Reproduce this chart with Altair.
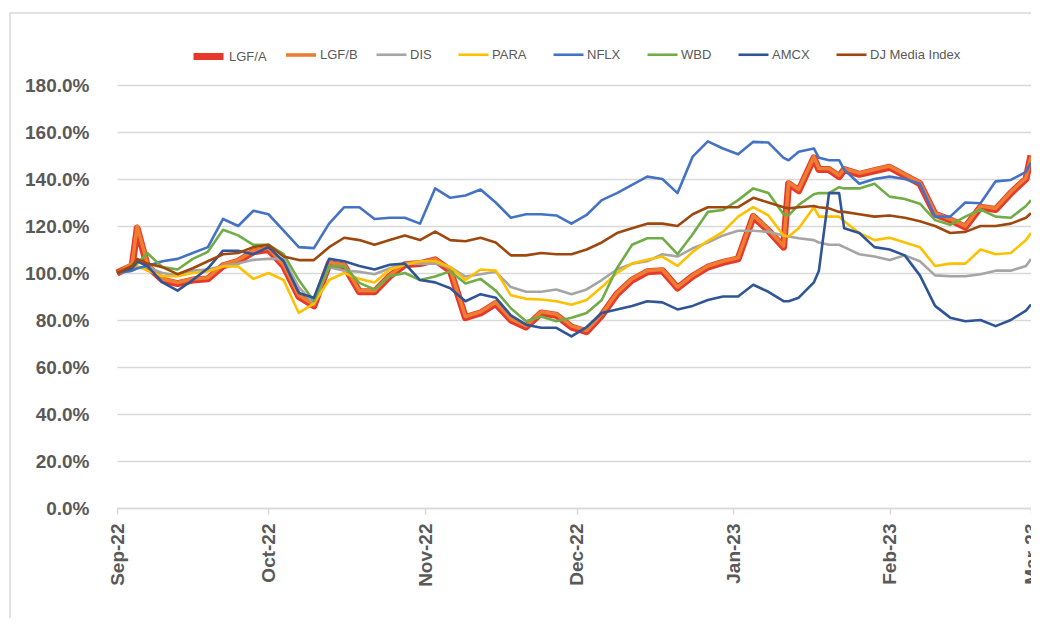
import altair as alt
import pandas as pd

DATES = [
    "2022-09-01", "2022-09-04", "2022-09-05", "2022-09-07", "2022-09-10", "2022-09-13", "2022-09-16", "2022-09-19", "2022-09-22", "2022-09-25",
    "2022-09-28", "2022-10-01", "2022-10-04", "2022-10-07", "2022-10-10", "2022-10-13", "2022-10-16", "2022-10-19", "2022-10-22", "2022-10-25",
    "2022-10-28", "2022-10-31", "2022-11-03", "2022-11-06", "2022-11-09", "2022-11-12", "2022-11-15", "2022-11-18", "2022-11-21", "2022-11-24",
    "2022-11-27", "2022-11-30", "2022-12-03", "2022-12-06", "2022-12-09", "2022-12-12", "2022-12-15", "2022-12-18", "2022-12-21", "2022-12-24",
    "2022-12-27", "2022-12-30", "2023-01-02", "2023-01-05", "2023-01-08", "2023-01-11", "2023-01-12", "2023-01-14", "2023-01-17", "2023-01-18",
    "2023-01-20", "2023-01-22", "2023-01-23", "2023-01-26", "2023-01-29", "2023-02-01", "2023-02-04", "2023-02-07", "2023-02-10", "2023-02-13",
    "2023-02-16", "2023-02-19", "2023-02-22", "2023-02-25", "2023-02-28", "2023-03-01",
]

LGF_A = [100, 103, 119, 103, 97, 95.5, 97, 97.5, 103, 105,
         109, 110, 103, 90, 86, 104, 103, 92, 92, 98.6,
         103.5, 104, 105.6, 101, 81, 83, 87, 80, 77, 83,
         82, 77, 75, 82, 91, 97, 100.5, 101, 93.6, 98.6,
         102.5, 104.5, 106, 124, 118, 111, 138, 135, 149, 144,
         144, 141, 144, 142, 143.5, 145, 141.5, 138, 125, 122.6,
         119.5, 128, 127, 134, 140, 150]

LGF_B = [100, 104, 120, 104, 97.5, 96, 97.5, 98, 103.5, 105.5,
         109.5, 110.5, 103.5, 90.5, 86.5, 104.5, 103.5, 92.5, 92.5, 99,
         104, 104.5, 106, 101.5, 81.5, 83.5, 87.5, 80.5, 77.5, 83.5,
         82.5, 77.5, 75.5, 82.5, 91.5, 97.5, 101, 101.5, 94, 99,
         103, 105, 106.5, 124.5, 118.5, 111.5, 138.5, 135.5, 149.5, 144.5,
         144.5, 141.5, 144.5, 142.5, 144, 145.5, 142, 138.5, 125.5, 123,
         120, 128.5, 127.5, 134.5, 140.5, 149.5]

DIS = [100, 101, 102, 102.5, 100, 99, 101, 101.5, 103, 104,
       105.6, 106, 106, 94, 87, 102.5, 101, 100.5, 99.5, 102,
       104, 104, 104, 102.5, 98.5, 99.5, 100.5, 94, 92, 92,
       93, 91, 93, 97, 101.5, 104, 105, 108, 107, 110.5,
       113, 116, 118, 118, 117.5, 116, 115.5, 114.8, 114, 113,
       112, 112, 111, 108, 107, 105.5, 107.5, 105, 99, 98.6,
       98.6, 99.5, 101, 101, 103, 106]

PARA = [100, 101.5, 103, 101, 98.6, 98.6, 100, 100.7, 102.8, 102.8,
        97.5, 100, 97, 83, 87, 97, 100, 97.5, 96, 101.5,
        103.5, 105, 105, 102.5, 97, 101.5, 101, 90.5, 89, 88.7,
        88, 86.5, 88.5, 94, 100, 104, 105.6, 107, 103, 109,
        113.7, 117.5, 124, 128, 124.5, 116, 115.5, 119, 128, 124,
        124, 124, 122, 117, 114, 115, 113, 111, 103, 104,
        104, 110, 108, 108.5, 114, 117]

NFLX = [100, 101, 102, 103, 105, 106, 108.5, 111, 123, 120,
        126.5, 125, 118, 111, 110.6, 121, 128, 128, 123, 123.5,
        123.5, 121, 136, 132, 133, 135.5, 130, 123.5, 125, 125,
        124.5, 121, 124.7, 131, 134, 137.5, 141, 140, 134, 149.5,
        156, 153, 150.5, 155.8, 155.5, 149, 148, 151.6, 153, 149,
        148, 148, 144, 138, 140, 141, 140, 138, 124, 124,
        130, 129.7, 139, 139.6, 143, 147]

WBD = [100, 102, 104, 108.5, 102.5, 101.5, 106, 109, 118.4, 116,
       112, 112, 108, 97, 88, 102.8, 102.8, 95.8, 93, 98.6,
       100, 97, 98.5, 100.7, 95.5, 97.5, 92.5, 85, 79.5, 81.5,
       79.5, 81, 83, 88.5, 102, 112, 114.8, 114.8, 108, 116.5,
       126, 126.8, 131, 136, 134, 125, 124.5, 129, 133.5, 134,
       134, 136.5, 136, 136, 138, 132.5, 131.5, 129.5, 122.5, 120.5,
       124, 127, 124, 123.5, 128.5, 131]

AMCX = [100, 102, 105, 103, 96, 92.5, 97, 102, 109.5, 109.5,
        108, 111, 105, 91.5, 89.5, 106, 105, 103, 101.5, 103.5,
        104, 97, 96, 93.5, 88, 91, 89.5, 82, 78, 76.7,
        76.7, 73, 77, 83, 84.5, 86, 88, 87.5, 84.5, 86,
        88.5, 90, 90, 95, 92, 88, 88, 89.5, 96, 101,
        134, 134, 119, 117, 111, 110, 107.5, 99, 86, 81,
        79.5, 80, 77.4, 80, 84, 86.6]

DJ_MEDIA = [100, 103, 106, 104, 102.5, 99.5, 102, 105, 108, 108.5,
            111, 112, 107, 105.5, 105.5, 111, 115, 114, 112, 114,
            116, 114, 117.6, 114, 113.5, 115, 113, 107.5, 107.5, 108.5,
            108, 108, 110, 113, 117, 119, 121, 121, 120, 125,
            128, 128, 128, 132, 130, 128, 127.5, 128, 128.5, 128,
            127.5, 126, 126, 125, 124, 124.5, 123.5, 122, 120, 117,
            117.5, 120, 120, 121, 123.5, 125.4]

SERIES = ["LGF/A", "LGF/B", "DIS", "PARA", "NFLX", "WBD", "AMCX", "DJ Media Index"]
VALUES = [LGF_A, LGF_B, DIS, PARA, NFLX, WBD, AMCX, DJ_MEDIA]
COLORS = ["#E8382B", "#ED7D31", "#A5A5A5", "#FFC000", "#4472C4", "#70AD47", "#2F5597", "#9E480E"]
Y_TICKS = [0, 20, 40, 60, 80, 100, 120, 140, 160, 180]

# groups of series drawn with the same line width: (series, width, legend x offset)
GROUPS = [
    (SERIES[:1], 7.0, 73),
    (SERIES[1:2], 3.6, 167),
    (SERIES[2:], 2.6, 258),
]

rows = []
for order, (name, vals) in enumerate(zip(SERIES, VALUES)):
    assert len(vals) == len(DATES), name
    for d, v in zip(DATES, vals):
        rows.append({"date": d + "T00:00:00", "value": v, "series": name, "order": order})
df = pd.DataFrame(rows)

month_ticks = [alt.DateTime(year=2022, month=m, date=1) for m in (9, 10, 11, 12)] + \
              [alt.DateTime(year=2023, month=m, date=1) for m in (1, 2, 3)]

x_enc = alt.X("date:T",
              scale=alt.Scale(domain=[alt.DateTime(year=2022, month=9, date=1),
                                      alt.DateTime(year=2023, month=3, date=1)]),
              axis=alt.Axis(values=month_ticks, format="%b-%y", labelAngle=270, title=None,
                            grid=False, domainColor="#D9D9D9", domainWidth=1.5,
                            tickColor="#D9D9D9", tickSize=6, tickWidth=1.5,
                            labelPadding=9, labelFont="Liberation Sans", labelFontSize=19,
                            labelFontWeight="bold", labelColor="#595959", labelFlush=False,
                            labelOverlap=False))
y_enc = alt.Y("value:Q",
              scale=alt.Scale(domain=[0, 180], nice=False),
              axis=alt.Axis(values=Y_TICKS, labelExpr="format(datum.value, '.1f') + '%'",
                            title=None, domain=False, ticks=False, grid=True,
                            gridColor="#D9D9D9", gridWidth=1.5, labelPadding=28,
                            labelFont="Liberation Sans", labelFontSize=19,
                            labelFontWeight="bold", labelColor="#595959"))

layers = []
for names, width, lx in GROUPS:
    cols = [COLORS[SERIES.index(n)] for n in names]
    leg = alt.Legend(
        title=None, orient="none", legendX=lx, legendY=-47, direction="horizontal",
        columns=len(names), symbolType="stroke", symbolSize=900, symbolStrokeWidth=width,
        labelFont="Liberation Sans", labelFontSize=13, labelColor="#595959",
        labelOffset=2, columnPadding=21, symbolOpacity=1,
    )
    layers.append(
        alt.Chart(df)
        .transform_filter(alt.FieldOneOfPredicate(field="series", oneOf=names))
        .mark_line(strokeWidth=width, strokeJoin="round")
        .encode(
            x=x_enc, y=y_enc,
            color=alt.Color("series:N", scale=alt.Scale(domain=names, range=cols), legend=leg),
            order=alt.Order("order:Q"),
        )
    )

frame = alt.Chart(pd.DataFrame({"k": [0]})).mark_rect(
    fillOpacity=0, stroke="#D9D9D9", strokeWidth=1.5
).encode(
    x=alt.value(-107), x2=alt.value(1000), y=alt.value(-72), y2=alt.value(700)
)

chart = alt.layer(frame, *layers).resolve_scale(color="independent").resolve_legend(
    color="independent"
).properties(
    width=914, height=423,
    padding={"left": 109, "top": 77, "right": 0, "bottom": 110},
    autosize=alt.AutoSizeParams(type="none"),
).configure_view(stroke=None)

chart.save("out.html", embed_options={"renderer": "svg", "actions": False})
